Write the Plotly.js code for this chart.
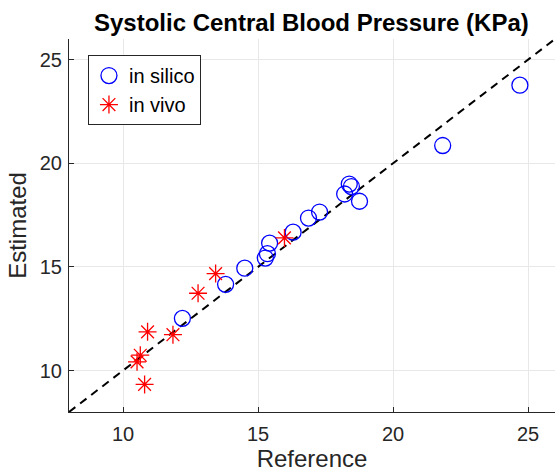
<!DOCTYPE html>
<html>
<head>
<meta charset="utf-8">
<script src="https://cdn.plot.ly/plotly-3.0.1.min.js"></script>
<style>html,body{margin:0;padding:0;overflow:hidden;background:#fff}</style>
</head>
<body>
<div id="chart" style="width:555px;height:474px"></div>
<script>
// In silico (blue circles)
const silicoRef = [12.20, 13.80, 14.51, 15.27, 15.35, 15.43, 16.30, 16.87, 17.28, 18.21, 18.38, 18.46, 18.76, 21.84, 24.70];
const silicoEst = [12.52, 14.16, 14.94, 15.43, 15.64, 16.15, 16.68, 17.36, 17.65, 18.52, 19.00, 18.88, 18.17, 20.86, 23.77];
// In vivo (red asterisks)
const vivoRef = [10.52, 10.64, 10.80, 10.91, 11.85, 12.78, 13.43, 15.98];
const vivoEst = [10.42, 10.74, 9.33, 11.87, 11.73, 13.73, 14.68, 16.40];
// Identity line
const identityX = [8, 26];
const identityY = [8, 26];
const tickVals = [10, 15, 20, 25];
const tickText = ['10', '15', '20', '25'];

const font = "'Liberation Sans', Arial, Helvetica, sans-serif";

const traces = [
  {
    x: identityX, y: identityY, mode: 'lines', type: 'scatter',
    line: {color: '#000', width: 2, dash: '8px,6px'},
    showlegend: false, hoverinfo: 'skip'
  },
  {
    x: silicoRef, y: silicoEst, mode: 'markers', type: 'scatter', name: 'in silico',
    marker: {symbol: 'circle-open', size: 16, color: 'rgb(0,0,255)', line: {width: 1.3, color: 'rgb(0,0,255)'}}
  },
  {
    x: vivoRef, y: vivoEst, mode: 'markers', type: 'scatter', name: 'in vivo',
    marker: {symbol: 'asterisk-open', size: 15, color: 'rgb(255,0,0)', line: {width: 1.3, color: 'rgb(255,0,0)'}}
  }
];

const axisCommon = {
  showgrid: true, gridcolor: '#e8e8e8', gridwidth: 1,
  zeroline: false, showline: true, linecolor: '#262626', linewidth: 1,
  ticks: 'inside', ticklen: 5, tickcolor: '#262626', tickwidth: 1,
  tickfont: {family: font, size: 20, color: '#262626'},
  tickmode: 'array', tickvals: tickVals, ticktext: tickText,
  mirror: false
};

const layout = {
  width: 555, height: 474,
  margin: {l: 69, r: 0, t: 39, b: 62, pad: 0},
  paper_bgcolor: '#fff', plot_bgcolor: '#fff',
  title: {
    text: '<b>Systolic Central Blood Pressure (KPa)</b>',
    font: {family: font, size: 24, color: '#000'},
    x: 0.561, xanchor: 'center', y: 0.952, yanchor: 'middle'
  },
  xaxis: Object.assign({}, axisCommon, {
    range: [8, 26],
    ticklabelstandoff: 4,
    title: {text: 'Reference', font: {family: font, size: 24, color: '#262626'}, standoff: 4}
  }),
  yaxis: Object.assign({}, axisCommon, {
    range: [8, 26],
    ticklabelstandoff: 2,
    title: {text: 'Estimated', font: {family: font, size: 24, color: '#262626'}, standoff: 6}
  }),
  legend: {
    x: 0.039, y: 0.957, xanchor: 'left', yanchor: 'top',
    bgcolor: '#fff', bordercolor: '#262626', borderwidth: 1,
    font: {family: font, size: 20, color: '#000'},
    tracegroupgap: 0, itemwidth: 30
  },
  showlegend: true
};

Plotly.newPlot('chart', traces, layout, {displayModeBar: false, staticPlot: true});
</script>
</body>
</html>
